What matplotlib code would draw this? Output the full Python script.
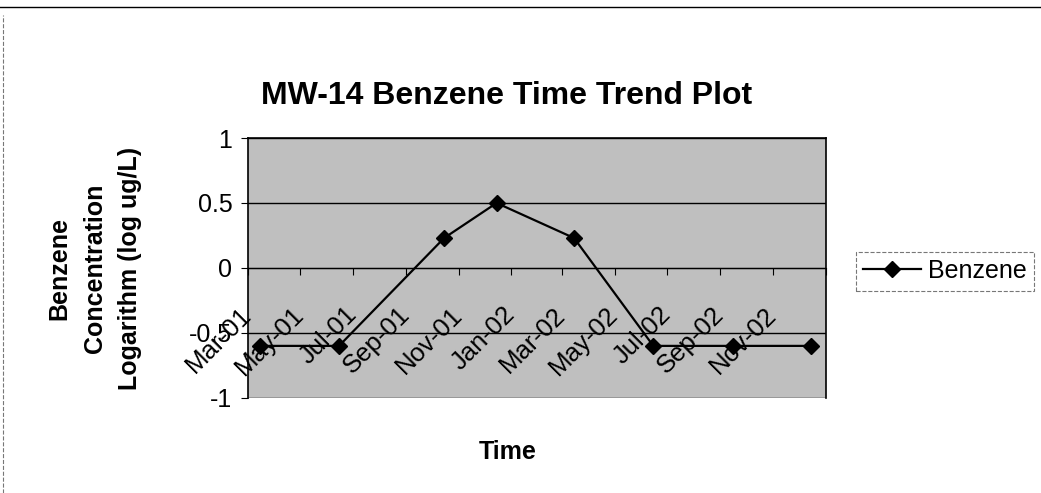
import matplotlib.pyplot as plt
from matplotlib.lines import Line2D
import datetime as dt

plt.rcParams['font.family'] = ['Liberation Sans', 'DejaVu Sans']
plt.rcParams['axes.unicode_minus'] = False

# sample dates and log10 benzene concentrations (ug/L)
sample_dates = [dt.date(2001, 3, 15), dt.date(2001, 6, 15), dt.date(2001, 10, 15),
                dt.date(2001, 12, 15), dt.date(2002, 3, 15), dt.date(2002, 6, 15),
                dt.date(2002, 9, 15), dt.date(2002, 12, 15)]
benzene_log = [-0.6, -0.6, 0.23, 0.5, 0.23, -0.6, -0.6, -0.6]

tick_dates = [dt.date(2001, 3, 1), dt.date(2001, 5, 1), dt.date(2001, 7, 1),
              dt.date(2001, 9, 1), dt.date(2001, 11, 1), dt.date(2002, 1, 1),
              dt.date(2002, 3, 1), dt.date(2002, 5, 1), dt.date(2002, 7, 1),
              dt.date(2002, 9, 1), dt.date(2002, 11, 1), dt.date(2003, 1, 1)]
tick_labels = ['Mar-01', 'May-01', 'Jul-01', 'Sep-01', 'Nov-01', 'Jan-02',
               'Mar-02', 'May-02', 'Jul-02', 'Sep-02', 'Nov-02', '']
y_ticks = [-1, -0.5, 0, 0.5, 1]
y_labels = ['-1', '-0.5', '0', '0.5', '1']

fig = plt.figure(figsize=(10.41, 4.93), dpi=100)
ax = fig.add_axes([0.238, 0.193, 0.555, 0.527])
ax.set_facecolor('#bfbfbf')
# horizontal axis crosses at zero (set before styling ticks, it resets them)
ax.spines['bottom'].set_position(('data', 0))

ax.plot(sample_dates, benzene_log, color='black', lw=1.6, marker='D',
        markersize=8, label='Benzene')

ax.set_xlim(dt.date(2001, 3, 1), dt.date(2003, 1, 1))
ax.set_ylim(-1, 1)
ax.set_yticks(y_ticks)
ax.set_yticklabels(y_labels, fontsize=18)
ax.yaxis.grid(True, color='black', lw=1)
ax.set_axisbelow(True)

ax.set_xticks(tick_dates)
ax.set_xticklabels(tick_labels, fontsize=18.5, rotation=45, ha='right',
                   va='center', rotation_mode='anchor')
ax.tick_params(axis='x', direction='out', length=5, pad=26)
ax.tick_params(axis='y', direction='out', length=5, pad=6)
for s in ['top', 'right', 'left']:
    ax.spines[s].set_color('black')
    ax.spines[s].set_linewidth(1.2)

fig.text(0.487, 0.805, 'MW-14 Benzene Time Trend Plot', fontsize=23,
         fontweight='bold', ha='center', va='center')
fig.text(0.488, 0.083, 'Time', fontsize=18, fontweight='bold',
         ha='center', va='center')
fig.text(0.091, 0.455, 'Benzene\nConcentration\nLogarithm (log ug/L)',
         fontsize=18, fontweight='bold', rotation=90, ha='center',
         va='center', linespacing=1.6)

leg = ax.legend(loc='center left', bbox_to_anchor=(0.81, 0.45),
                bbox_transform=fig.transFigure, fontsize=18, frameon=True,
                fancybox=False, handlelength=2.3, borderpad=0.3,
                handletextpad=0.3)
leg.get_frame().set_edgecolor('#555555')
leg.get_frame().set_linestyle('--')
leg.get_frame().set_linewidth(0.8)

# outer chart border (scanned page)
fig.add_artist(Line2D([0, 1], [0.985, 0.985], color='black', lw=1))
fig.add_artist(Line2D([0.003, 0.003], [0, 0.97], color='#777777', lw=0.8, ls='--'))

fig.savefig('out.png', dpi=100)
